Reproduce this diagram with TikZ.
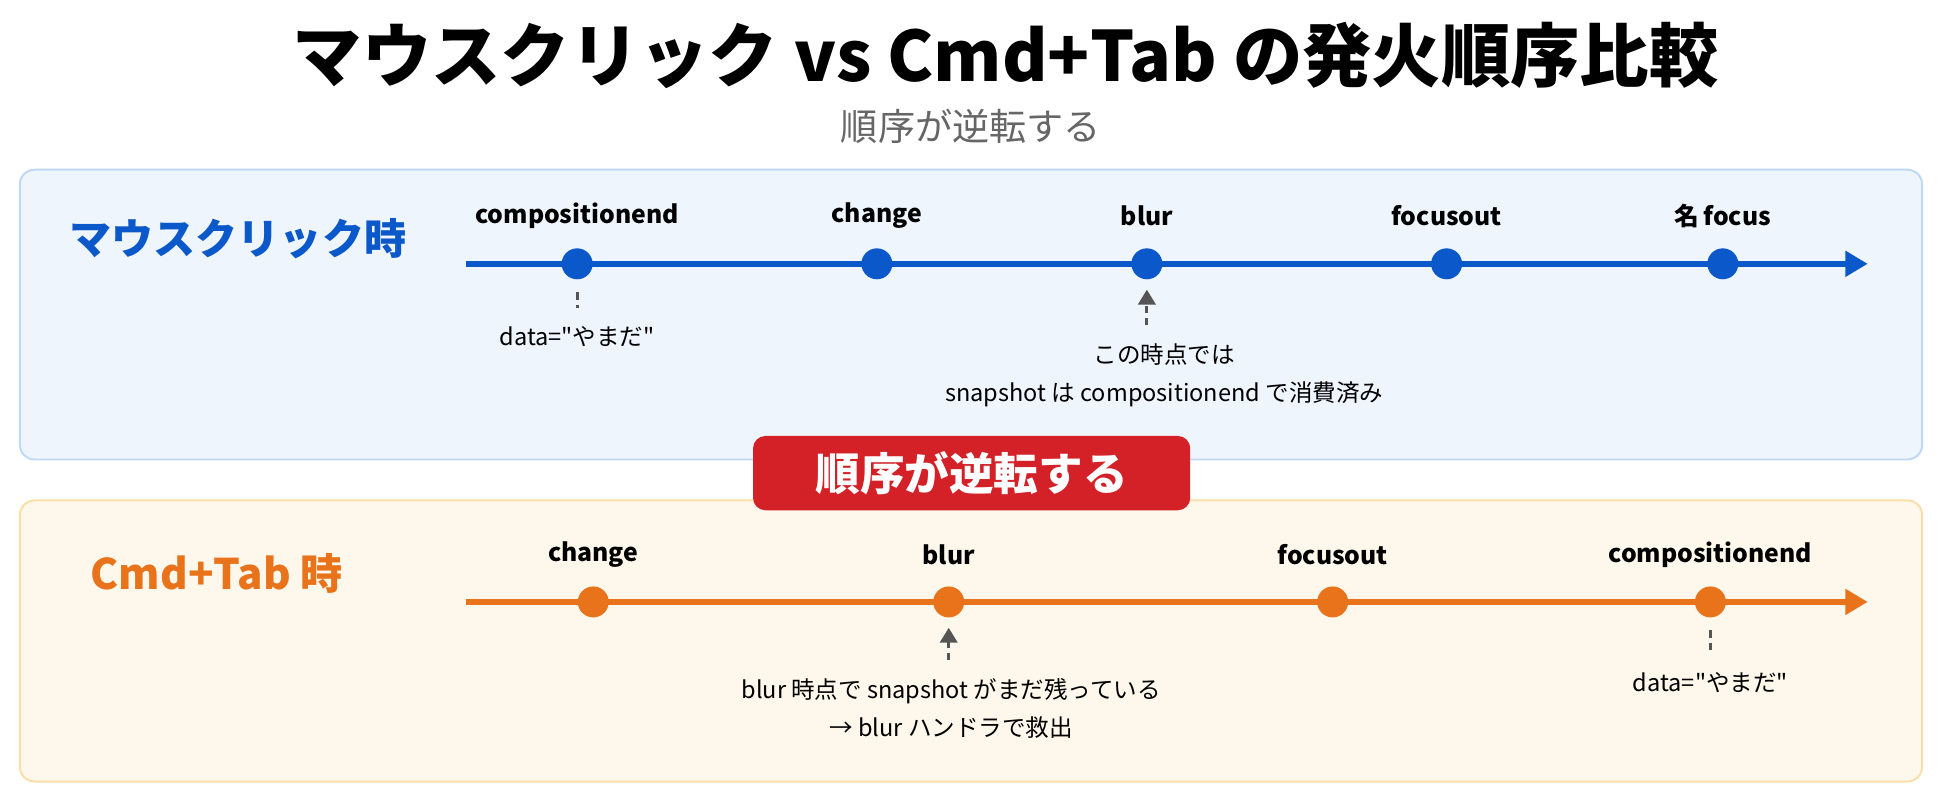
\documentclass[tikz,border=0pt]{standalone}
\usepackage{fontspec}
\setmainfont{Noto Sans CJK JP}[Ligatures=TeXOff]
\usetikzlibrary{arrows.meta}
\definecolor{mouseblue}{HTML}{0A58CA}
\definecolor{cmdorange}{HTML}{E8731A}
\definecolor{badgered}{HTML}{D42027}
\definecolor{bluebg}{HTML}{EEF5FD}
\definecolor{blueline}{HTML}{BFD8F5}
\definecolor{orangebg}{HTML}{FEF8EC}
\definecolor{orangeline}{HTML}{F8DFA8}
\definecolor{notegray}{HTML}{555555}
\tikzset{
  evlabel/.style={font=\fontsize{10}{12}\selectfont\bfseries},
  notetext/.style={font=\fontsize{9.5}{15}\selectfont, align=center},
  evdot/.style={circle, inner sep=0pt, minimum size=12.5pt},
  noteline/.style={densely dashed, line width=1.2pt, notegray},
  timeline/.style={line width=2.2pt, -{Triangle[length=9pt,width=10pt]}}
}
\begin{document}
\begin{tikzpicture}[x=0.5pt,y=-0.5pt]
\useasboundingbox (0,0) rectangle (1568,653);

%Title
\node (title) at (812,45) {\fontsize{28}{30}\selectfont\bfseries マウスクリック vs Cmd+Tab の発火順序比較};
\node[text=gray!80!black] (subtitle) at (784,102) {\fontsize{15}{18}\selectfont 順序が逆転する};

%Panels
\draw[fill=bluebg, draw=blueline, line width=0.8pt, rounded corners=6pt] (16,137) rectangle (1552,371);
\draw[fill=orangebg, draw=orangeline, line width=0.8pt, rounded corners=6pt] (16,404) rectangle (1552,631);

%Mouse click row
\node[text=mouseblue] (mouselabel) at (192,193) {\fontsize{17}{20}\selectfont\bfseries マウスクリック時};
\coordinate (mstart) at (376,213);
\coordinate (mend) at (1508,213);
\draw[timeline, mouseblue] (mstart) -- (mend);
\foreach \x/\name/\txt in {466/mcomp/compositionend, 708/mchange/change, 926/mblur/blur, 1168/mfocusout/focusout, 1391/mfocus/名\,focus}{
  \node[evdot, fill=mouseblue] (\name) at (\x,213) {};
  \node[evlabel] at (\x,174) {\txt};
}
\node[notetext] (mdata) at (466,272) {data="やまだ"};
\draw[noteline] ([yshift=-5pt]mcomp.south) -- ([yshift=4pt]mdata.north);
\node[notetext] (mnote) at (940,303) {この時点では\\snapshot は compositionend で消費済み};
\draw[noteline, -{Triangle[length=6pt,width=7pt]}] ([yshift=4pt]mblur |- mnote.north) -- ([yshift=-4pt]mblur.south);

%Badge
\node[fill=badgered, text=white, rounded corners=5pt, minimum width=176.5pt, minimum height=30pt] (badge) at (784.5,382) {\fontsize{18}{20}\selectfont\bfseries 順序が逆転する};

%Cmd+Tab row
\node[text=cmdorange] (cmdlabel) at (175,463) {\fontsize{17}{20}\selectfont\bfseries Cmd+Tab 時};
\coordinate (cstart) at (376,486);
\coordinate (cend) at (1508,486);
\draw[timeline, cmdorange] (cstart) -- (cend);
\foreach \x/\name/\txt in {479/cchange/change, 766/cblur/blur, 1076/cfocusout/focusout, 1381/ccomp/compositionend}{
  \node[evdot, fill=cmdorange] (\name) at (\x,486) {};
  \node[evlabel] at (\x,448) {\txt};
}
\node[notetext] (cnote) at (768,572) {blur 時点で snapshot がまだ残っている\\→ blur ハンドラで救出};
\draw[noteline, -{Triangle[length=6pt,width=7pt]}] ([yshift=4pt]cblur |- cnote.north) -- ([yshift=-4pt]cblur.south);
\node[notetext] (cdata) at (1381,551) {data="やまだ"};
\draw[noteline] ([yshift=-5pt]ccomp.south) -- ([yshift=4pt]cdata.north);
\end{tikzpicture}
\end{document}
